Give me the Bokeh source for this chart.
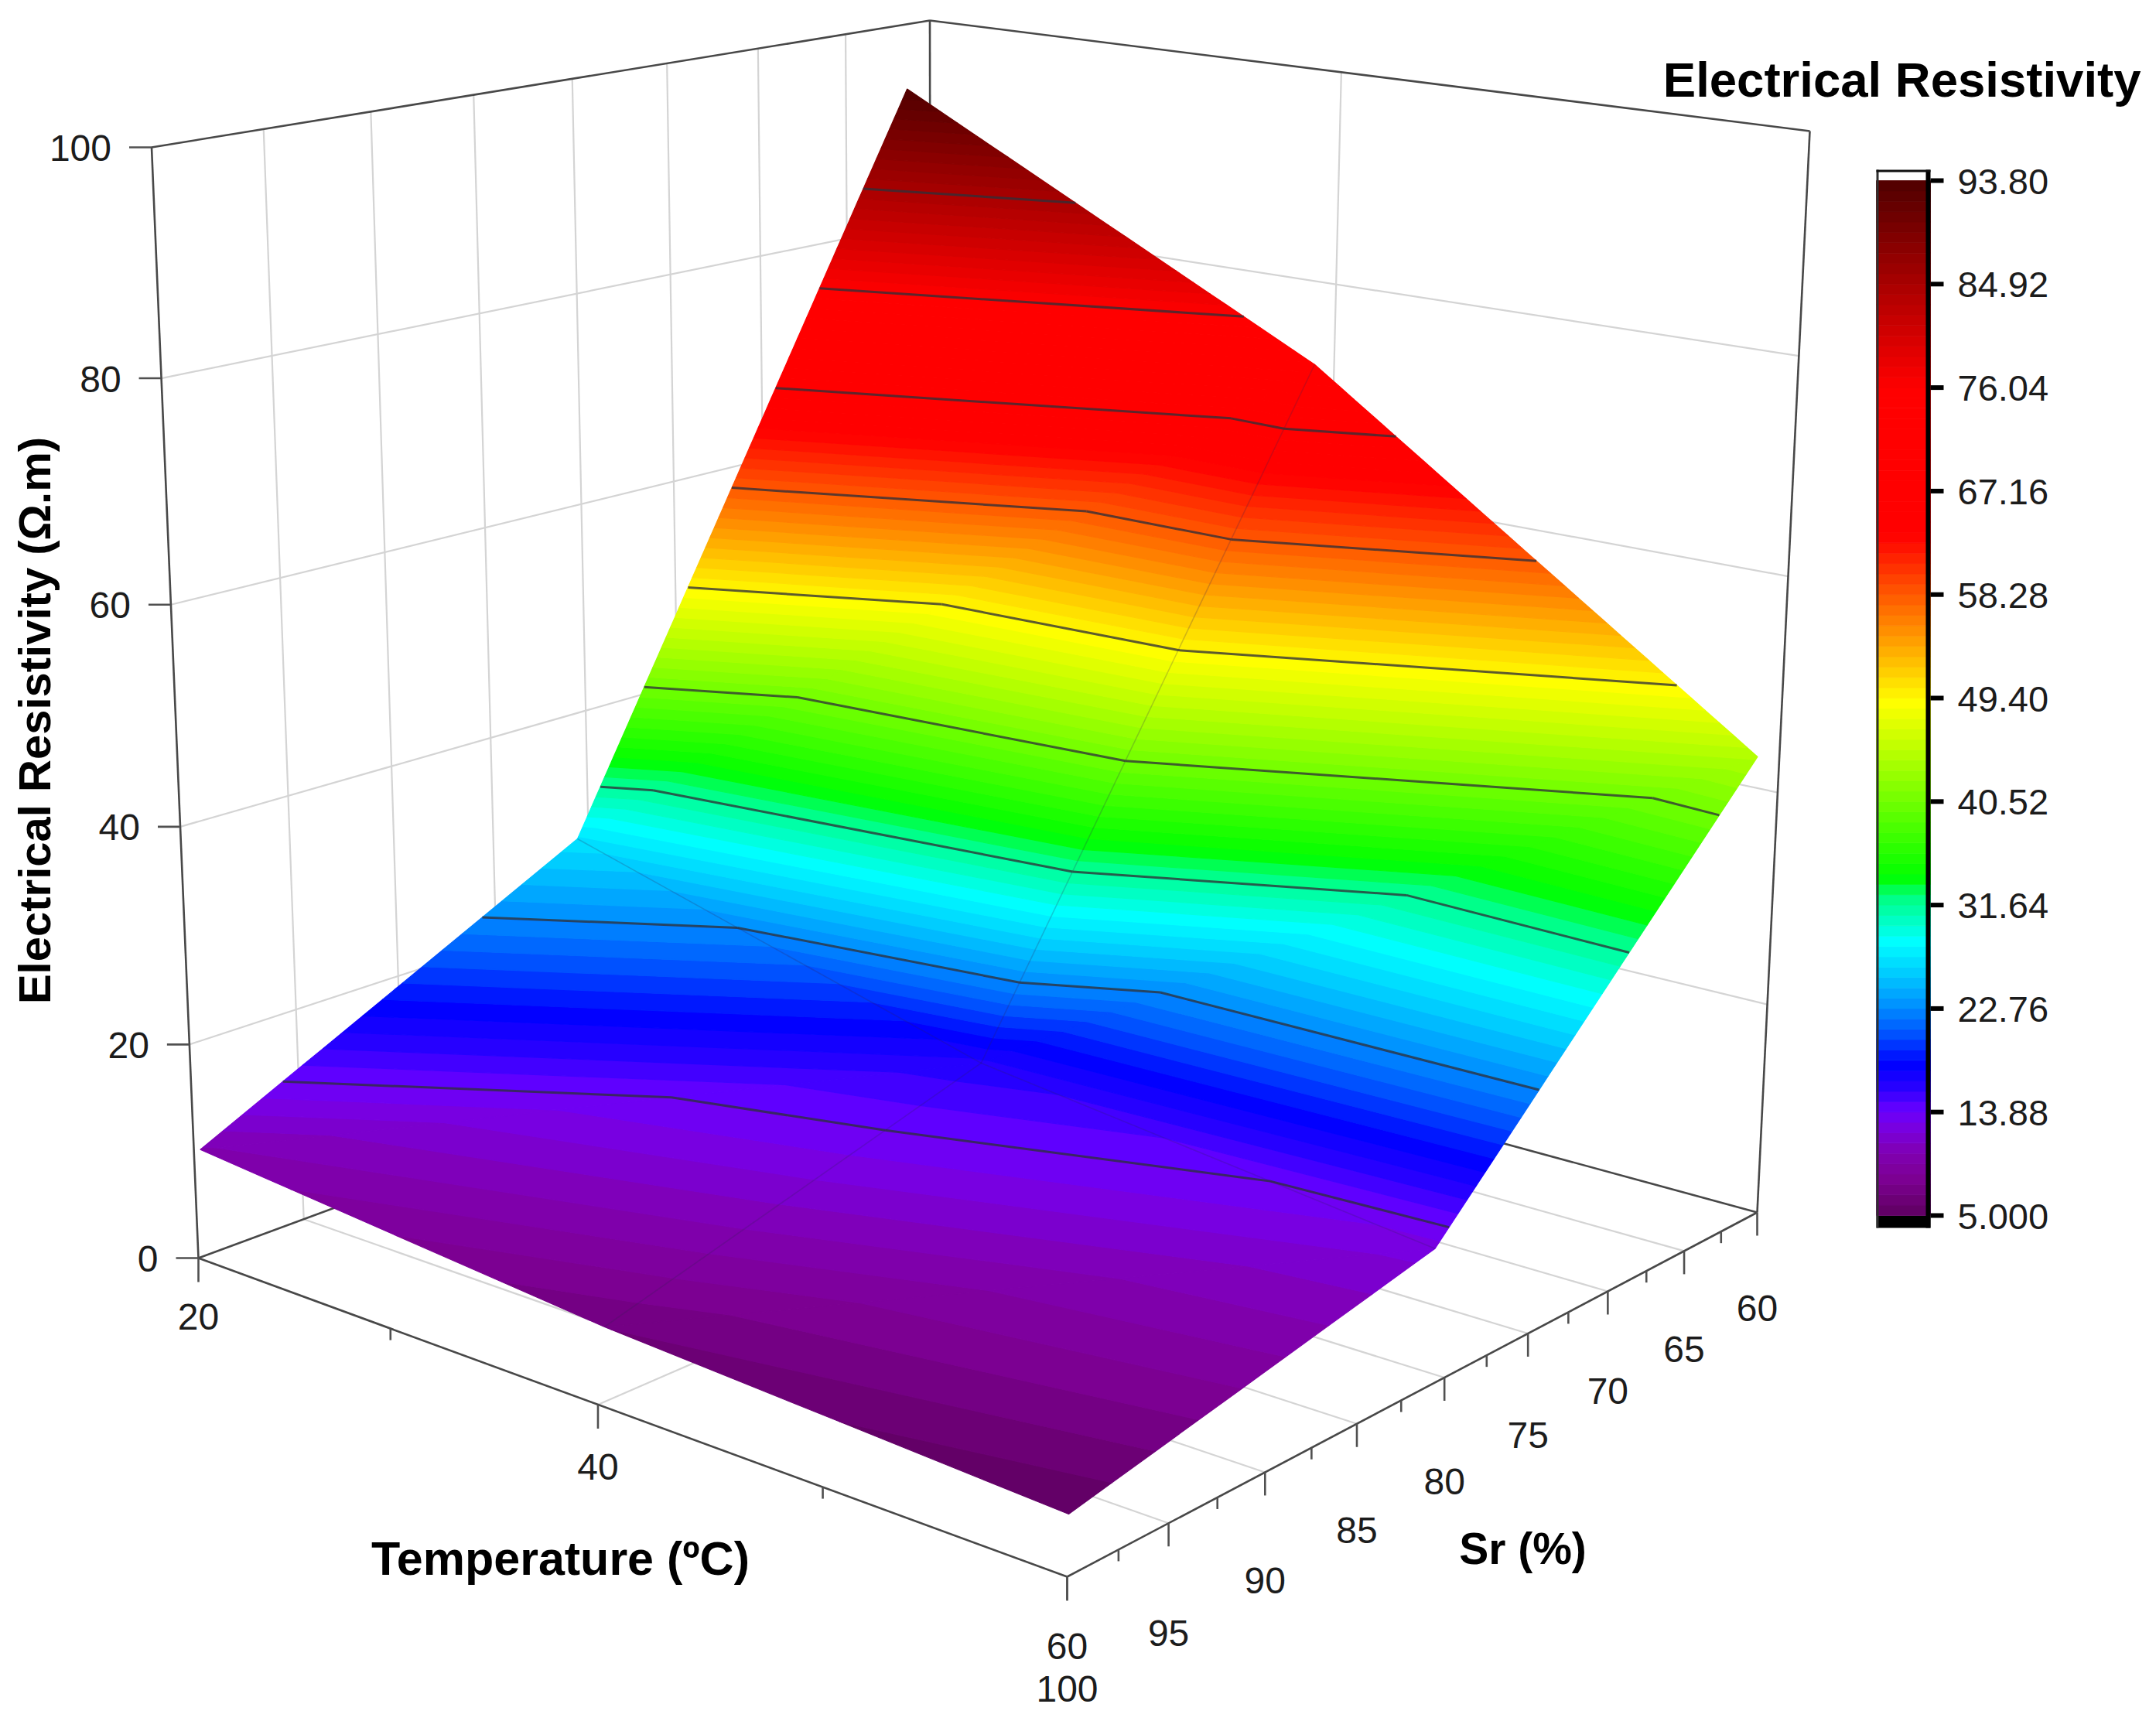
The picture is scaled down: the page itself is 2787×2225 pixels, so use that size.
import numpy as np
from bokeh.plotting import figure
from bokeh.embed import file_html
from bokeh.resources import INLINE
from bokeh.core.properties import value

# ---------- data ----------
TEMPERATURE = [20, 40, 60]
SR = [100, 80, 60]
RESISTIVITY = [
    [10.2, 6.8, 5.0],     # Sr = 100
    [27.0, 16.3, 12.5],   # Sr = 80
    [93.8, 72.3, 44.3],   # Sr = 60
]
Z_TICKS = [0, 20, 40, 60, 80, 100]
T_MAJOR = [20, 40, 60]
T_MINOR = [30, 50]
SR_MAJOR = [100, 95, 90, 85, 80, 75, 70, 65, 60]
SR_MINOR = [97.5, 92.5, 87.5, 82.5, 77.5, 72.5, 67.5, 62.5]
CB_TICKS = [5.0, 13.88, 22.76, 31.64, 40.52, 49.40, 58.28, 67.16, 76.04, 84.92, 93.80]
CB_LABELS = ["5.000", "13.88", "22.76", "31.64", "40.52", "49.40", "58.28", "67.16", "76.04", "84.92", "93.80"]
N_LEVELS = 100
CMAP_LEVELS = [5, 8, 10.5, 12.5, 14, 16, 18, 20.5, 23, 26, 28.5, 32.4, 34, 40.5, 49, 56, 63.4, 76, 85, 93.8]
CMAP_COLORS = ["#5f0060", "#7c0090", "#8000b4", "#7800e0", "#6a00ff", "#2800ff", "#0000ff", "#0050ff",
               "#0090ff", "#00d0ff", "#00ffff", "#00ff80", "#00ff00", "#70ff00", "#ffff00", "#ff8000",
               "#ff0000", "#ff0000", "#a80000", "#500000"]

# ---------- camera: floor / top corners of the box in page pixels ----------
FONT = "Liberation Sans"
FLOOR = {(20, 100): (256, 1626), (60, 100): (1379, 2038), (60, 60): (2271, 1567), (20, 60): (1203, 1276)}
WALL_TOP = {(20, 100): (195.5, 190), (20, 60): (1201.5, 26), (60, 60): (2339, 169)}
SURF_TOP = {(20, 100): (281, 190), (60, 100): (1420, 340), (60, 60): (2272, 200), (20, 60): (1170, 34)}
Z_PERSP = 0.05
WALL_FRONT_DROP = 25
# the reference's surface layer is not quite in the box's perspective: small view corrections, px
SURF_SHIFT_X = [[0, 2, 0], [-9, -13, -9], [0, -32, 0]]
SURF_SHIFT_Y = [[0, 0, 0], [-8, -3, 14], [0, -20, 0]]


def homography(corners):
    A, b = [], []
    for (u, v), (x, y) in corners.items():
        A.append([u, v, 1, 0, 0, 0, -u * x, -v * x]); b.append(x)
        A.append([0, 0, 0, u, v, 1, -u * y, -v * y]); b.append(y)
    h = np.linalg.solve(np.array(A, float), np.array(b, float))
    return np.append(h, 1).reshape(3, 3)


def apply_h(H, u, v):
    p = H @ np.array([u, v, 1.0])
    return p[:2] / p[2]


def meet(a, b, c, d):
    a, b, c, d = map(np.array, (a, b, c, d))
    M = np.array([b - a, c - d], float).T
    s = np.linalg.solve(M, c - a)[0]
    return tuple(a + s * (b - a))


H_FLOOR = homography(FLOOR)
# the unseen front-top corner follows from the floor's vanishing points
vp_sr = meet(FLOOR[(20, 100)], FLOOR[(20, 60)], FLOOR[(60, 100)], FLOOR[(60, 60)])
vp_t = meet(FLOOR[(20, 100)], FLOOR[(60, 100)], FLOOR[(20, 60)], FLOOR[(60, 60)])
fx, fy = meet(WALL_TOP[(60, 60)], vp_sr, WALL_TOP[(20, 100)], vp_t)
WALL_TOP[(60, 100)] = (fx, fy + WALL_FRONT_DROP)
H_WALL = homography(WALL_TOP)
H_SURF = homography(SURF_TOP)


def project(H_top, t, sr, z):
    s = z / 100.0
    s = s / (1 + Z_PERSP * (1 - s))
    return apply_h(H_FLOOR, t, sr) * (1 - s) + apply_h(H_top, t, sr) * s


def wall(t, sr, z):
    return project(H_WALL, t, sr, z)


def cmap(level):
    rgb = np.array([[int(c[i:i + 2], 16) for i in (1, 3, 5)] for c in CMAP_COLORS], float)
    out = [int(round(np.interp(level, CMAP_LEVELS, rgb[:, k]))) for k in range(3)]
    return "#%02x%02x%02x" % tuple(out)


# ---------- figure ----------
p = figure(width=2771, height=2209, x_range=(0, 2771), y_range=(2209, 0),
           output_backend="svg", toolbar_location=None, min_border=0)
p.axis.visible = False
p.grid.visible = False
p.outline_line_color = None


def lines(pts, color, width, alpha=1.0):
    p.multi_line([[a[0], b[0]] for a, b in pts], [[a[1], b[1]] for a, b in pts],
                 line_color=color, line_width=width, line_alpha=alpha)


GRID = "#d4d4d4"
AXIS = "#484848"
T0, T1, S0, S1 = 20, 60, 100, 60

# grid on the walls and the floor
g = []
for z in Z_TICKS[1:-1]:
    g.append((wall(T0, S0, z), wall(T0, S1, z)))
    g.append((wall(T0, S1, z), wall(T1, S1, z)))
for sr in SR_MAJOR[1:-1]:
    g.append((wall(T0, sr, 0), wall(T0, sr, 100)))
    g.append((wall(T0, sr, 0), wall(T1, sr, 0)))
for t in T_MAJOR[1:-1]:
    g.append((wall(t, S1, 0), wall(t, S1, 100)))
    g.append((wall(t, S1, 0), wall(t, S0, 0)))
lines(g, GRID, 2.2)

# box edges and axes
edges = [(wall(T0, S0, 100), wall(T0, S1, 100)), (wall(T0, S1, 100), wall(T1, S1, 100)),
         (wall(T0, S1, 0), wall(T0, S1, 100)), (wall(T1, S1, 0), wall(T1, S1, 100)),
         (wall(T0, S0, 0), wall(T0, S0, 100)),
         (wall(T0, S0, 0), wall(T0, S1, 0)), (wall(T0, S1, 0), wall(T1, S1, 0)),
         (wall(T0, S0, 0), wall(T1, S0, 0)), (wall(T1, S0, 0), wall(T1, S1, 0))]
lines(edges, AXIS, 2.6)

# surface vertices, then filled bands per triangle
verts = [[np.append(project(H_SURF, t, sr, RESISTIVITY[i][j]) + np.array([SURF_SHIFT_X[i][j], SURF_SHIFT_Y[i][j]]),
                    RESISTIVITY[i][j])
          for j, t in enumerate(TEMPERATURE)] for i, sr in enumerate(SR)]
tris = []
for i in range(len(SR) - 1):
    for j in range(len(TEMPERATURE) - 1):
        a, b, c, d = verts[i][j], verts[i][j + 1], verts[i + 1][j + 1], verts[i + 1][j]
        tris.append((a, b, c))
        tris.append((a, c, d))


def clip(poly, level, keep_above):
    out = []
    for k in range(len(poly)):
        a, b = poly[k], poly[(k + 1) % len(poly)]
        ina = (a[2] >= level) == keep_above
        inb = (b[2] >= level) == keep_above
        if ina:
            out.append(a)
        if ina != inb:
            out.append(a + (b - a) * (level - a[2]) / (b[2] - a[2]))
    return out


levels = np.linspace(CB_TICKS[0], CB_TICKS[-1], N_LEVELS + 1)
xs, ys, fills = [], [], []
for lo, hi in zip(levels[:-1], levels[1:]):
    col = cmap((lo + hi) / 2)
    for tri in tris:
        poly = clip(list(tri), lo, True)
        if len(poly) >= 3:
            poly = clip(poly, hi, False)
        if len(poly) >= 3:
            xs.append([q[0] for q in poly])
            ys.append([q[1] for q in poly])
            fills.append(col)
p.patches(xs, ys, fill_color=fills, line_color=fills, line_width=1.2)

# faint mesh seams
seams = []
for j in range(len(TEMPERATURE) - 1):
    seams.append((verts[1][j], verts[1][j + 1]))
for i in range(len(SR) - 1):
    seams.append((verts[i][1], verts[i + 1][1]))
lines(seams, "#302050", 1.6, 0.22)

# contour lines at the labelled levels
cont = []
for lev in CB_TICKS[1:-1]:
    for tri in tris:
        pts = []
        for k in range(3):
            a, b = tri[k], tri[(k + 1) % 3]
            if (a[2] - lev) * (b[2] - lev) < 0:
                pts.append(a + (b - a) * (lev - a[2]) / (b[2] - a[2]))
        if len(pts) == 2:
            cont.append((pts[0], pts[1]))
lines(cont, "#303038", 3, 0.78)

# ticks
TICK = "#505050"
tk = []
for t in T_MAJOR:
    q = wall(t, S0, 0); tk.append((q, q + np.array([0, 31])))
for t in T_MINOR:
    q = wall(t, S0, 0); tk.append((q, q + np.array([0, 15])))
for sr in SR_MAJOR:
    q = wall(T1, sr, 0); tk.append((q, q + np.array([0, 30])))
for sr in SR_MINOR:
    q = wall(T1, sr, 0); tk.append((q, q + np.array([0, 15])))
for z in Z_TICKS:
    q = wall(T0, S0, z); tk.append((q, q - np.array([29, 0])))
lines(tk, TICK, 2.6)

LAB = "#1c1c1c"


def text(x, y, s, size, align="center", bold=False, angle=0.0, color=LAB):
    p.text([x], [y], text=[s], text_font=value(FONT), text_font_size=f"{size}px",
           text_align=align, text_baseline="middle", text_color=color,
           text_font_style="bold" if bold else "normal", angle=angle)


for z in Z_TICKS:
    q = wall(T0, S0, z)
    text(q[0] - 52, q[1] + 1, str(z), 48, align="right")
for t, off in zip(T_MAJOR, [76, 81, 90]):
    q = wall(t, S0, 0)
    text(q[0], q[1] + off, str(t), 48)
for sr in SR_MAJOR:
    q = wall(T1, sr, 0)
    text(q[0], q[1] + 124 + (sr - 60) * 0.53, str(sr), 48)

text(724, 2014, "Temperature (ºC)", 61, bold=True, color="#000000")
text(1968, 2001, "Sr (%)", 57, bold=True, color="#000000")
text(44, 931, "Electrical Resistivity (Ω.m)", 58, bold=True, angle=np.pi / 2, color="#000000")
text(2767, 102, "Electrical Resistivity", 63.5, align="right", bold=True, color="#000000")

# colour scale
CB_L, CB_R, CB_TOP, CB_BOT = 2425, 2495, 219, 1587
Y5, Y93 = 1571, 233


def cb_y(v):
    return Y5 + (v - CB_TICKS[0]) / (CB_TICKS[-1] - CB_TICKS[0]) * (Y93 - Y5)


p.quad(left=[CB_L], right=[CB_R], top=[CB_TOP], bottom=[Y93], fill_color="#ffffff", line_color=None)
p.quad(left=[CB_L], right=[CB_R], top=[Y5], bottom=[CB_BOT], fill_color="#000000", line_color=None)
cols = [cmap((a + b) / 2) for a, b in zip(levels[:-1], levels[1:])]
p.quad(left=CB_L, right=CB_R, top=[cb_y(b) for b in levels[1:]], bottom=[cb_y(a) for a in levels[:-1]],
       fill_color=cols, line_color=cols, line_width=0.8)
p.quad(left=[CB_L], right=[CB_L + 3], top=[CB_TOP], bottom=[CB_BOT], fill_color="#303030", line_color=None)
p.quad(left=[CB_R - 6], right=[CB_R], top=[CB_TOP], bottom=[CB_BOT], fill_color="#000000", line_color=None)
p.quad(left=[CB_L], right=[CB_R], top=[CB_TOP], bottom=[CB_TOP + 3], fill_color="#101010", line_color=None)
p.quad(left=CB_R, right=CB_R + 17, top=[cb_y(v) - 3 for v in CB_TICKS], bottom=[cb_y(v) + 3 for v in CB_TICKS],
       fill_color="#000000", line_color=None)
for v, s in zip(CB_TICKS, CB_LABELS):
    text(2530, cb_y(v) + 1, s, 47, align="left")

open("out.html", "w").write(file_html(p, INLINE))
